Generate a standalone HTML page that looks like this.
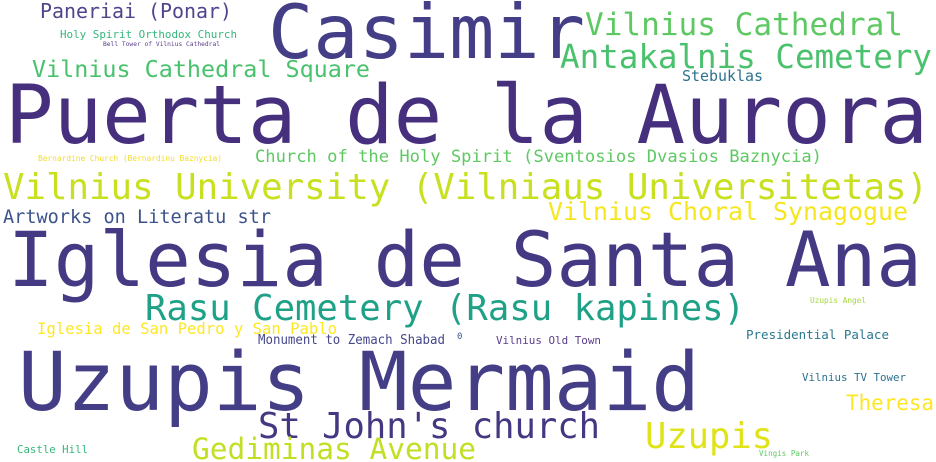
<!DOCTYPE html>
<html><head><meta charset="utf-8"><style>
html,body{margin:0;padding:0;background:#fff;width:936px;height:462px;overflow:hidden}
svg text{font-family:"DejaVu Sans Mono","Liberation Mono",monospace}
</style></head><body>
<svg width="936" height="462" viewBox="0 0 936 462" xmlns="http://www.w3.org/2000/svg">
<rect width="936" height="462" fill="#fff"/>
<text x="268" y="58" font-size="75" fill="#433e85" textLength="317" lengthAdjust="spacingAndGlyphs">Casimir</text>
<text x="5" y="143" font-size="81" fill="#46307e" textLength="923" lengthAdjust="spacingAndGlyphs">Puerta de la Aurora</text>
<text x="8" y="286" font-size="76" fill="#443983" textLength="914" lengthAdjust="spacingAndGlyphs">Iglesia de Santa Ana</text>
<text x="18" y="410" font-size="81" fill="#433e85" textLength="682" lengthAdjust="spacingAndGlyphs">Uzupis Mermaid</text>
<text x="3" y="199" font-size="36" fill="#c8e020" textLength="925" lengthAdjust="spacingAndGlyphs">Vilnius University (Vilniaus Universitetas)</text>
<text x="145" y="320" font-size="36" fill="#1fa187" textLength="600" lengthAdjust="spacingAndGlyphs">Rasu Cemetery (Rasu kapines)</text>
<text x="258" y="438" font-size="36" fill="#453781" textLength="342" lengthAdjust="spacingAndGlyphs">St John's church</text>
<text x="585" y="35" font-size="31" fill="#5ec962" textLength="318" lengthAdjust="spacingAndGlyphs">Vilnius Cathedral</text>
<text x="560" y="68" font-size="33" fill="#4ac16d" textLength="372" lengthAdjust="spacingAndGlyphs">Antakalnis Cemetery</text>
<text x="40" y="18" font-size="20" fill="#50448a" textLength="192" lengthAdjust="spacingAndGlyphs">Paneriai (Ponar)</text>
<text x="60" y="38" font-size="11" fill="#35b779" textLength="177" lengthAdjust="spacingAndGlyphs">Holy Spirit Orthodox Church</text>
<text x="103" y="46" font-size="6.5" fill="#5a3d8a" textLength="117" lengthAdjust="spacingAndGlyphs">Bell Tower of Vilnius Cathedral</text>
<text x="32" y="77" font-size="23" fill="#4ac16d" textLength="338" lengthAdjust="spacingAndGlyphs">Vilnius Cathedral Square</text>
<text x="682" y="81" font-size="15" fill="#2c728e" textLength="81" lengthAdjust="spacingAndGlyphs">Stebuklas</text>
<text x="38" y="161" font-size="8" fill="#f2dc2a" textLength="184" lengthAdjust="spacingAndGlyphs">Bernardine Church (Bernardinu Baznycia)</text>
<text x="255" y="162" font-size="17" fill="#5ec962" textLength="567" lengthAdjust="spacingAndGlyphs">Church of the Holy Spirit (Sventosios Dvasios Baznycia)</text>
<text x="3" y="223" font-size="18.6" fill="#3b528b" textLength="268" lengthAdjust="spacingAndGlyphs">Artworks on Literatu str</text>
<text x="548" y="220" font-size="25" fill="#f5e61f" textLength="360" lengthAdjust="spacingAndGlyphs">Vilnius Choral Synagogue</text>
<text x="37" y="334" font-size="16" fill="#fde725" textLength="300" lengthAdjust="spacingAndGlyphs">Iglesia de San Pedro y San Pablo</text>
<text x="258" y="344" font-size="13" fill="#46488a" textLength="187" lengthAdjust="spacingAndGlyphs">Monument to Zemach Shabad</text>
<text x="457" y="339" font-size="9" fill="#3b528b">0</text>
<text x="496" y="344" font-size="11" fill="#5a3d8a" textLength="105" lengthAdjust="spacingAndGlyphs">Vilnius Old Town</text>
<text x="810" y="303" font-size="8" fill="#a0da39" textLength="56" lengthAdjust="spacingAndGlyphs">Uzupis Angel</text>
<text x="746" y="339" font-size="12.5" fill="#2a788e" textLength="143" lengthAdjust="spacingAndGlyphs">Presidential Palace</text>
<text x="802" y="381" font-size="11" fill="#2c728e" textLength="104" lengthAdjust="spacingAndGlyphs">Vilnius TV Tower</text>
<text x="846" y="410" font-size="21" fill="#fde725" textLength="88" lengthAdjust="spacingAndGlyphs">Theresa</text>
<text x="645" y="448" font-size="35.5" fill="#dfe318" textLength="128" lengthAdjust="spacingAndGlyphs">Uzupis</text>
<text x="192" y="459" font-size="29.6" fill="#c2df23" textLength="284" lengthAdjust="spacingAndGlyphs">Gediminas Avenue</text>
<text x="17" y="453" font-size="11" fill="#35b779" textLength="71" lengthAdjust="spacingAndGlyphs">Castle Hill</text>
<text x="759" y="456" font-size="7.6" fill="#5ec962" textLength="50" lengthAdjust="spacingAndGlyphs">Vingis Park</text>
</svg>
</body></html>
